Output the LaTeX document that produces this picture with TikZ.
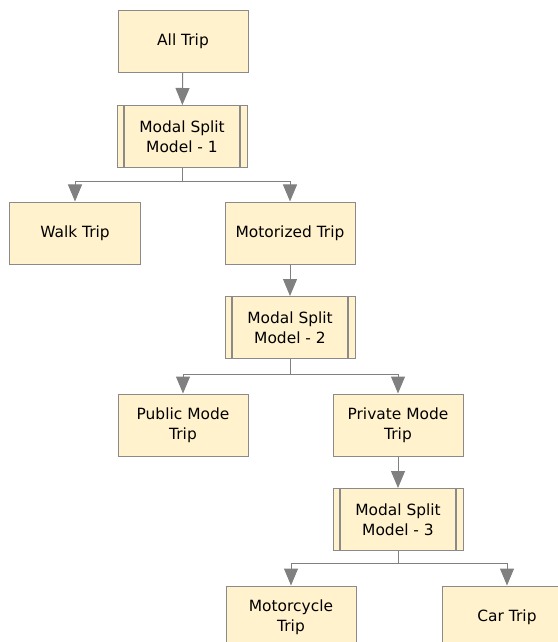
\documentclass[tikz,border=0pt]{standalone}
\usepackage{fontspec}
\setmainfont{DejaVu Sans}
\usetikzlibrary{arrows.meta}
\definecolor{boxfill}{HTML}{FFF2CC}
\definecolor{boxgray}{HTML}{8A8A8A}
\definecolor{linkgray}{HTML}{808080}

\begin{document}
\begin{tikzpicture}[x=1bp,y=-1bp]
    % `box' is used for the plain trip boxes.
    % `split' is the model box with the two side bars.
    % `link' is used for the gray arrows.
    \tikzstyle{box} = [draw=boxgray,fill=boxfill,line width=1bp,minimum width=130bp,minimum height=62bp,inner sep=2bp,align=center,font=\fontsize{15.5}{20}\selectfont]
    \tikzstyle{split} = [box,path picture={
        \draw[boxgray,line width=1.6bp] ([xshift=7bp]path picture bounding box.north west) -- ([xshift=7bp]path picture bounding box.south west)
        ([xshift=-7bp]path picture bounding box.north east) -- ([xshift=-7bp]path picture bounding box.south east);}]
    \tikzstyle{link} = [draw=linkgray,line width=1bp,-{Triangle[length=17bp,width=14bp]}]
    %
    \useasboundingbox (0,0) rectangle (558,642);
    \node[box] (all) at (183,41.5) {All Trip};
    \node[split] (m1) at (182,136.5) {Modal Split\\Model - 1};
    \node[box] (walk) at (75,233) {Walk Trip};
    \node[box] (motor) at (290,233) {Motorized Trip};
    \node[split] (m2) at (290,327.5) {Modal Split\\Model - 2};
    \node[box] (public) at (183,425) {Public Mode\\Trip};
    \node[box] (private) at (398,425) {Private Mode\\Trip};
    \node[split] (m3) at (398,519.5) {Modal Split\\Model - 3};
    \node[box] (moto) at (291,617) {Motorcycle\\Trip};
    \node[box] (car) at (507,617) {Car Trip};
    %
    % Draw arrows.
    \draw[link] (all) -- (m1);
    \draw[link] (m1.south) -- ++(0,13) -| (walk);
    \draw[link] (m1.south) -- ++(0,13) -| (motor);
    \draw[link] (motor) -- (m2);
    \draw[link] (m2.south) -- ++(0,15) -| (public);
    \draw[link] (m2.south) -- ++(0,15) -| (private);
    \draw[link] (private) -- (m3);
    \draw[link] (m3.south) -- ++(0,12) -| (moto);
    \draw[link] (m3.south) -- ++(0,12) -| (car);
\end{tikzpicture}
\end{document}
